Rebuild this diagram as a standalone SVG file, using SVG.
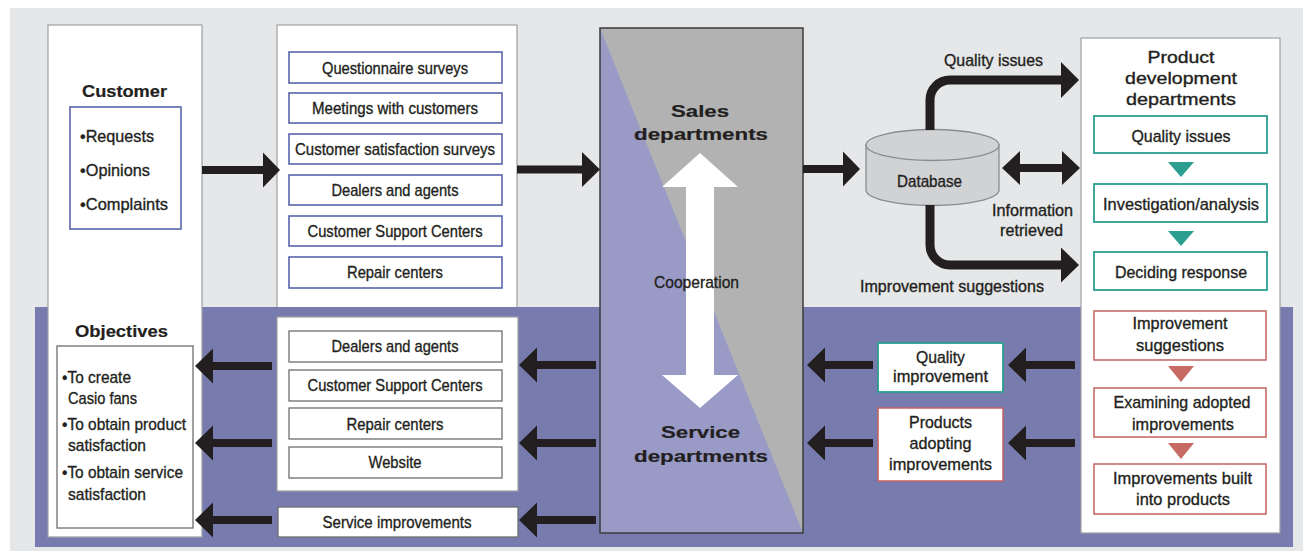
<svg xmlns="http://www.w3.org/2000/svg" width="1303" height="551" viewBox="0 0 1303 551">
<style>
.t{font-family:"Liberation Sans",Arial,Helvetica,sans-serif;fill:#231f20;stroke:#231f20;stroke-width:0.35;font-size:17px;text-anchor:middle}
.s{text-anchor:start}
.b{font-weight:bold;stroke-width:0.2}
.wb{fill:#fff;stroke:#9d9fa2;stroke-width:1.2}
.bl{fill:#fff;stroke:#4f5aa6;stroke-width:1.5}
.gy{fill:#fff;stroke:#6d6e71;stroke-width:1.3}
.tl{fill:#fff;stroke:#2b9e90;stroke-width:1.8}
.rd{fill:#fff;stroke:#c4615d;stroke-width:1.5}
.ar{fill:#231f20}
.ln{fill:none;stroke:#231f20;stroke-width:9}
</style>
<rect x="10" y="8" width="1293" height="543" fill="#e6e7e8"/>
<g id="channels-in">
<rect class="wb" x="277" y="25" width="240" height="290"/>
<rect class="bl" x="289" y="52" width="213" height="31"/>
<text class="t" x="395" y="74" textLength="146" lengthAdjust="spacingAndGlyphs">Questionnaire surveys</text>
<rect class="bl" x="289" y="93" width="213" height="30"/>
<text class="t" x="395" y="114" textLength="166" lengthAdjust="spacingAndGlyphs">Meetings with customers</text>
<rect class="bl" x="289" y="134" width="213" height="30"/>
<text class="t" x="395" y="155" textLength="200" lengthAdjust="spacingAndGlyphs">Customer satisfaction surveys</text>
<rect class="bl" x="289" y="175" width="213" height="30"/>
<text class="t" x="395" y="196" textLength="127" lengthAdjust="spacingAndGlyphs">Dealers and agents</text>
<rect class="bl" x="289" y="216" width="213" height="30"/>
<text class="t" x="395" y="237" textLength="175" lengthAdjust="spacingAndGlyphs">Customer Support Centers</text>
<rect class="bl" x="289" y="257" width="213" height="31"/>
<text class="t" x="395" y="278" textLength="96" lengthAdjust="spacingAndGlyphs">Repair centers</text>
</g>
<rect x="35" y="307" width="1258" height="240" fill="#777bae"/>
<g id="customer">
<rect class="wb" x="48" y="25" width="154" height="512"/>
<text class="t b" x="124.5" y="97" font-size="21" textLength="85" lengthAdjust="spacingAndGlyphs">Customer</text>
<rect class="bl" x="70" y="107" width="111" height="122"/>
<text class="t s" x="80" y="142" font-size="17.5" textLength="74" lengthAdjust="spacingAndGlyphs">•Requests</text>
<text class="t s" x="80" y="176" font-size="17.5" textLength="70" lengthAdjust="spacingAndGlyphs">•Opinions</text>
<text class="t s" x="80" y="210" font-size="17.5" textLength="88" lengthAdjust="spacingAndGlyphs">•Complaints</text>
</g>
<g id="objectives">
<text class="t b" x="121.5" y="337" font-size="21" textLength="93" lengthAdjust="spacingAndGlyphs">Objectives</text>
<rect class="gy" x="57" y="346" width="136" height="182"/>
<text class="t s" x="62" y="383" font-size="17.5" textLength="69" lengthAdjust="spacingAndGlyphs">•To create</text>
<text class="t s" x="68" y="404" font-size="17.5" textLength="69" lengthAdjust="spacingAndGlyphs">Casio fans</text>
<text class="t s" x="62" y="430" font-size="17.5" textLength="124" lengthAdjust="spacingAndGlyphs">•To obtain product</text>
<text class="t s" x="68" y="451" font-size="17.5" textLength="78" lengthAdjust="spacingAndGlyphs">satisfaction</text>
<text class="t s" x="62" y="478" font-size="17.5" textLength="121" lengthAdjust="spacingAndGlyphs">•To obtain service</text>
<text class="t s" x="68" y="500" font-size="17.5" textLength="78" lengthAdjust="spacingAndGlyphs">satisfaction</text>
</g>
<g id="channels-out">
<rect class="wb" x="277" y="317" width="241" height="174" stroke="#c8c9cb"/>
<rect class="gy" x="289" y="331" width="213" height="31"/>
<text class="t" x="395" y="352" textLength="127" lengthAdjust="spacingAndGlyphs">Dealers and agents</text>
<rect class="gy" x="289" y="370" width="213" height="31"/>
<text class="t" x="395" y="391" textLength="175" lengthAdjust="spacingAndGlyphs">Customer Support Centers</text>
<rect class="gy" x="289" y="408" width="213" height="31"/>
<text class="t" x="395" y="430" textLength="97" lengthAdjust="spacingAndGlyphs">Repair centers</text>
<rect class="gy" x="289" y="447" width="213" height="31"/>
<text class="t" x="395" y="468" textLength="53" lengthAdjust="spacingAndGlyphs">Website</text>
</g>
<g id="service-improvements">
<rect class="gy" x="278" y="507" width="240" height="30" stroke="#9d9fa2"/>
<text class="t" x="397" y="528" textLength="149" lengthAdjust="spacingAndGlyphs">Service improvements</text>
</g>
<g id="departments">
<rect x="600" y="28" width="203" height="505" fill="#b2b2b3"/>
<polygon points="600,28 803,533 600,533" fill="#999bc6"/>
<rect x="600" y="28" width="203" height="505" fill="none" stroke="#3c3c3e" stroke-width="1.5"/>
<polygon points="700,153 738,187 714,187 714,375 738,375 700,408 662,375 686,375 686,187 662,187" fill="#fff"/>
<text class="t b" x="700" y="117" font-size="22" textLength="58" lengthAdjust="spacingAndGlyphs">Sales</text>
<text class="t b" x="701" y="140" font-size="22" textLength="134" lengthAdjust="spacingAndGlyphs">departments</text>
<text class="t" x="696.5" y="288" font-size="15.5" textLength="85" lengthAdjust="spacingAndGlyphs">Cooperation</text>
<text class="t b" x="700.5" y="438" font-size="22" textLength="79" lengthAdjust="spacingAndGlyphs">Service</text>
<text class="t b" x="701" y="462" font-size="22" textLength="134" lengthAdjust="spacingAndGlyphs">departments</text>
</g>
<g id="database">
<path d="M866,145 V190 A66.5,15.5 0 0 0 999,190 V145 Z" fill="#d1d2d4" stroke="#8a8c8e" stroke-width="1.3"/>
<ellipse cx="932.5" cy="145" rx="66.5" ry="15.5" fill="#d1d2d4" stroke="#8a8c8e" stroke-width="1.3"/>
<text class="t" x="929.5" y="187" font-size="17.5" textLength="65" lengthAdjust="spacingAndGlyphs">Database</text>
</g>
<g id="product-development">
<rect class="wb" x="1081" y="38" width="199" height="495"/>
<text class="t" x="1181" y="63" font-size="21.5" textLength="67" lengthAdjust="spacingAndGlyphs">Product</text>
<text class="t" x="1181" y="84" font-size="21.5" textLength="112" lengthAdjust="spacingAndGlyphs">development</text>
<text class="t" x="1181" y="105" font-size="21.5" textLength="110" lengthAdjust="spacingAndGlyphs">departments</text>
<rect class="tl" x="1094" y="116" width="173" height="37"/>
<text class="t" x="1181" y="142" textLength="99" lengthAdjust="spacingAndGlyphs">Quality issues</text>
<polygon points="1168,162 1194,162 1181,177" fill="#2b9e90"/>
<rect class="tl" x="1094" y="184" width="173" height="38"/>
<text class="t" x="1181" y="210" textLength="156" lengthAdjust="spacingAndGlyphs">Investigation/analysis</text>
<polygon points="1168,231 1194,231 1181,246" fill="#2b9e90"/>
<rect class="tl" x="1094" y="252" width="173" height="38"/>
<text class="t" x="1181" y="278" textLength="132" lengthAdjust="spacingAndGlyphs">Deciding response</text>
<rect class="rd" x="1094" y="311" width="172" height="49"/>
<text class="t" x="1180" y="329" textLength="95" lengthAdjust="spacingAndGlyphs">Improvement</text>
<text class="t" x="1180" y="351" textLength="88" lengthAdjust="spacingAndGlyphs">suggestions</text>
<polygon points="1168,366 1194,366 1181,382" fill="#c76a63"/>
<rect class="rd" x="1094" y="388" width="172" height="49"/>
<text class="t" x="1182" y="408" textLength="137" lengthAdjust="spacingAndGlyphs">Examining adopted</text>
<text class="t" x="1183" y="430" textLength="102" lengthAdjust="spacingAndGlyphs">improvements</text>
<polygon points="1168,443 1194,443 1181,459" fill="#c76a63"/>
<rect class="rd" x="1094" y="464" width="172" height="50"/>
<text class="t" x="1182.5" y="484" textLength="139" lengthAdjust="spacingAndGlyphs">Improvements built</text>
<text class="t" x="1183" y="505" textLength="94" lengthAdjust="spacingAndGlyphs">into products</text>
</g>
<g id="quality-improvement">
<rect class="tl" x="878" y="343" width="125" height="49"/>
<text class="t" x="940.5" y="363" textLength="49" lengthAdjust="spacingAndGlyphs">Quality</text>
<text class="t" x="940.5" y="382" textLength="95" lengthAdjust="spacingAndGlyphs">improvement</text>
</g>
<g id="products-adopting">
<rect class="rd" x="878" y="408" width="125" height="73"/>
<text class="t" x="940.5" y="428" textLength="63" lengthAdjust="spacingAndGlyphs">Products</text>
<text class="t" x="940.5" y="449" textLength="62" lengthAdjust="spacingAndGlyphs">adopting</text>
<text class="t" x="940.5" y="470" textLength="103" lengthAdjust="spacingAndGlyphs">improvements</text>
</g>
<g id="connectors">
<polygon class="ar" points="202,166 263,166 263,152.5 280,170 263,187.5 263,174 202,174"/>
<polygon class="ar" points="517,165.5 582,165.5 582,152 600,169.5 582,187 582,173.5 517,173.5"/>
<polygon class="ar" points="803,165 843,165 843,151.5 860,169 843,186.5 843,173 803,173"/>
<path class="ln" d="M930,130 V100 A20,20 0 0 1 950,80 H1063"/>
<polygon class="ar" points="1061,62 1079,80 1061,98"/>
<text class="t" x="993.5" y="66" font-size="17.5" textLength="99" lengthAdjust="spacingAndGlyphs">Quality issues</text>
<polygon class="ar" points="1002,168 1020,151 1020,164 1062,164 1062,151 1080,168 1062,185 1062,172 1020,172 1020,185"/>
<text class="t" x="1032.5" y="216" font-size="17.5" textLength="81" lengthAdjust="spacingAndGlyphs">Information</text>
<text class="t" x="1031.5" y="236" font-size="17.5" textLength="63" lengthAdjust="spacingAndGlyphs">retrieved</text>
<path class="ln" d="M930,205 V245 A20,20 0 0 0 950,265 H1063"/>
<polygon class="ar" points="1061,247.5 1079,265 1061,282.5"/>
<text class="t" x="952" y="292" font-size="17.5" textLength="184" lengthAdjust="spacingAndGlyphs">Improvement suggestions</text>
<polygon class="ar" points="1075,361 1026,361 1026,347.5 1008,365 1026,382.5 1026,369 1075,369"/>
<polygon class="ar" points="1075,439 1026,439 1026,425.5 1008,443 1026,460.5 1026,447 1075,447"/>
<polygon class="ar" points="873,361 825,361 825,347.5 807,365 825,382.5 825,369 873,369"/>
<polygon class="ar" points="873,439 825,439 825,425.5 807,443 825,460.5 825,447 873,447"/>
<polygon class="ar" points="596,361 537,361 537,347.5 519,365 537,382.5 537,369 596,369"/>
<polygon class="ar" points="596,439 537,439 537,425.5 519,443 537,460.5 537,447 596,447"/>
<polygon class="ar" points="596,516 537,516 537,502.5 519,520 537,537.5 537,524 596,524"/>
<polygon class="ar" points="272,362 213,362 213,348.5 195,366 213,383.5 213,370 272,370"/>
<polygon class="ar" points="272,439 213,439 213,425.5 195,443 213,460.5 213,447 272,447"/>
<polygon class="ar" points="272,516 213,516 213,502.5 195,520 213,537.5 213,524 272,524"/>
</g>
</svg>
